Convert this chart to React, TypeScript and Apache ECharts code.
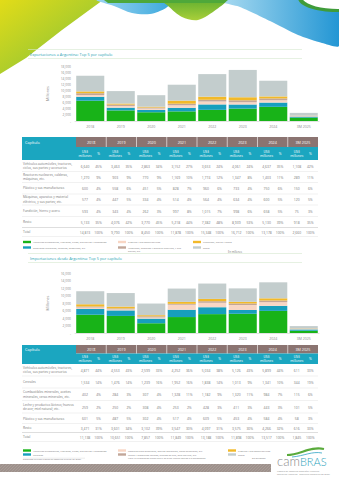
import React, { useEffect, useRef } from "react";
import * as echarts from "echarts";

// ---------- DATA ----------
const years = ["2018", "2019", "2020", "2021", "2022", "2023", "2024", "3M 2025"];
const yTicks1 = { min: 0, max: 18000, interval: 2000 };
const yTicks2 = { min: 0, max: 16000, interval: 2000 };

// Exportaciones a Argentina (US$ millones)
const expNames = [
  "Vehículos automóviles, tractores, ciclos, sus partes y accesorios",
  "Reactores nucleares, calderas, máquinas, etc",
  "Plástico y sus manufacturas",
  "Máquinas, aparatos y material eléctrico, y sus\npartes; etc",
  "Fundición, hierro y acero",
  "Resto",
];
const expRowLabels = [
  "Vehículos automóviles, tractores,\nciclos, sus partes y accesorios",
  "Reactores nucleares, calderas,\nmáquinas, etc.",
  "Plástico y sus manufacturas",
  "Máquinas, aparatos y material\neléctrico, y sus partes; etc.",
  "Fundición, hierro y acero",
  "Resto",
];
const expVehiculos = [6640, 3463, 2863, 3152, 3653, 4061, 4637, 1108];
const expReactores = [1270, 903, 770, 1169, 1774, 1347, 1403, 289];
const expPlastico = [600, 558, 451, 828, 960, 733, 750, 150];
const expMaquinas = [577, 447, 334, 514, 564, 634, 600, 120];
const expFundicion = [593, 343, 262, 997, 1015, 998, 658, 75];
const expResto = [5133, 4076, 3770, 5218, 7382, 8939, 5130, 918];
const expTotal = [14813, 9790, 8450, 11878, 15348, 16712, 13178, 2660];

// Importaciones desde Argentina (US$ millones)
const impNames = [
  "Vehículos automóviles, tractores, ciclos, sus partes y accesorios",
  "Cereales",
  "Combustibles minerales, aceites minerales, ceras minerales, etc.",
  "Leche y productos lácteos; huevos de ave; miel natural; etc.",
  "Plástico y sus manufacturas",
  "Resto",
];
const impRowLabels = [
  "Vehículos automóviles, tractores,\nciclos, sus partes y accesorios",
  "Cereales",
  "Combustibles minerales, aceites\nminerales, ceras minerales, etc.",
  "Leche y productos lácteos; huevos\nde ave; miel natural; etc.",
  "Plástico y sus manufacturas",
  "Resto",
];
const impVehiculos = [4871, 4553, 2599, 4252, 5034, 5126, 5899, 611];
const impCereales = [1534, 1476, 1239, 1952, 1838, 1013, 1341, 344];
const impCombustibles = [402, 284, 307, 1328, 1182, 1320, 984, 115];
const impLeche = [259, 250, 308, 253, 428, 411, 443, 101];
const impPlastico = [601, 487, 302, 517, 609, 453, 584, 58];
const impResto = [3471, 3601, 3102, 3547, 4097, 3575, 4266, 616];
const impTotal = [11138, 10651, 7857, 11849, 13188, 11898, 13517, 1845];

const colors = ["#18b318", "#169fbd", "#f8d6c4", "#c2a699", "#f2b929", "#c3cdcd"];

// ---------- HELPERS ----------
const FONT = "'Open Sans', 'Noto Sans', sans-serif";
const fmt = (v: number) => v.toLocaleString("en-US");

function txt(x: number, y: number, text: string, o: any = {}) {
  return {
    type: "text",
    x,
    y,
    silent: true,
    style: {
      text,
      fontSize: o.fontSize ?? 4,
      fill: o.fill ?? "#7a7a7a",
      align: o.align ?? "left",
      verticalAlign: o.verticalAlign ?? "middle",
      fontFamily: FONT,
      fontWeight: o.fontWeight ?? "normal",
      lineHeight: o.lineHeight ?? 5,
    },
  };
}
function rect(x: number, y: number, w: number, h: number, fill: string) {
  return { type: "rect", silent: true, shape: { x, y, width: w, height: h }, style: { fill } };
}
function hline(x1: number, x2: number, y: number, stroke: string, lw = 0.5) {
  return { type: "line", silent: true, shape: { x1, y1: y, x2, y2: y }, style: { stroke, lineWidth: lw } };
}
function grad(x2: number, y2: number, c1: string, c2: string) {
  return { type: "linear", x: 0, y: 0, x2, y2, colorStops: [{ offset: 0, color: c1 }, { offset: 1, color: c2 }], global: false };
}
function poly(points: number[][], fill: any, smooth = 0) {
  return { type: "polygon", silent: true, shape: { points, smooth }, style: { fill } };
}

const TX0 = 22;
const COL0 = 76;
const COLW = 30.25;
const TX1 = COL0 + COLW * 8;

function buildTable(top: number, headH: number, subH: number, centers: number[], seps: number[], labels: string[], rows: number[][], totals: number[]) {
  const els: any[] = [];
  const subTop = top + headH;
  els.push(rect(TX0, top, COL0 - TX0, headH + subH, "#1ba6c0"));
  els.push(rect(COL0, top, TX1 - COL0, headH, "#8b7471"));
  els.push(rect(COL0, subTop, TX1 - COL0, subH, "#1ba6c0"));
  els.push(txt(TX0 + 3, top + headH / 2, "Capítulo", { fill: "#ffffff", fontSize: 3.8 }));
  years.forEach((yr, i) => {
    const x0 = COL0 + i * COLW;
    if (i > 0) {
      els.push({ type: "line", silent: true, shape: { x1: x0, y1: top, x2: x0, y2: top + headH }, style: { stroke: "#ffffff", lineWidth: 0.6 } });
    }
    els.push(txt(x0 + COLW / 2, top + headH / 2, yr, { fill: "#ffffff", fontSize: 3.7, align: "center" }));
    els.push(txt(x0 + 9, subTop + subH / 2, "US$\nmillones", { fill: "#ffffff", fontSize: 3.3, align: "center", lineHeight: 3.8 }));
    els.push(txt(x0 + 22.5, subTop + subH / 2, "%", { fill: "#ffffff", fontSize: 3.3, align: "center" }));
  });
  const allRows = [...rows, totals];
  const allLabels = [...labels, "Total"];
  allRows.forEach((row, r) => {
    const cy = centers[r];
    els.push(txt(TX0 + 1, cy, allLabels[r], { fontSize: 3.2, lineHeight: 4.2 }));
    row.forEach((v, i) => {
      const x0 = COL0 + i * COLW;
      const pct = Math.round((v / totals[i]) * 100);
      els.push(txt(x0 + 9, cy, fmt(v), { fontSize: 3.4, align: "center" }));
      els.push(txt(x0 + 22.5, cy, pct + "%", { fontSize: 3.4, align: "center" }));
    });
  });
  seps.forEach((y, k) => {
    els.push(hline(TX0, TX1, y, k === seps.length - 2 ? "#bdbdbd" : "#e2e2e2", 0.5));
  });
  return els;
}

function buildLegend(y1: number, y2: number, cols: number[], names: string[], order: number[][]) {
  const els: any[] = [];
  order.forEach(([row, col], k) => {
    const y = row === 0 ? y1 : y2;
    const x = cols[col];
    els.push(rect(x, y - 1.2, 8, 2.4, colors[k]));
    els.push(txt(x + 10, y, names[k], { fontSize: 2.5, lineHeight: 3, verticalAlign: names[k].includes("\n") ? "top" : "middle" }));
    if (names[k].includes("\n")) els[els.length - 1].y = y - 1.5;
  });
  return els;
}

function barSeries(data: number[][], names: string[], xi: number) {
  return data.map((d, k) => ({
    type: "bar",
    name: names[k] + (xi ? " " : ""),
    stack: "s" + xi,
    xAxisIndex: xi,
    yAxisIndex: xi,
    barCategoryGap: "8%",
    itemStyle: { color: colors[k] },
    data: d,
  }));
}

function axes(xi: number, ticks: { min: number; max: number; interval: number }) {
  return {
    x: {
      type: "category",
      gridIndex: xi,
      data: years,
      axisLine: { lineStyle: { color: "#d0d0d0", width: 0.6 } },
      axisTick: { show: false },
      axisLabel: { fontSize: 3.5, color: "#8a8a8a", margin: 3, fontFamily: FONT },
    },
    y: {
      type: "value",
      gridIndex: xi,
      min: ticks.min,
      max: ticks.max,
      interval: ticks.interval,
      name: "Millones",
      nameLocation: "middle",
      nameRotate: 90,
      nameGap: 17,
      nameTextStyle: { fontSize: 3.8, color: "#8a8a8a", fontFamily: FONT },
      splitLine: { show: false },
      axisLine: { show: false },
      axisTick: { show: false },
      axisLabel: {
        fontSize: 3.3,
        color: "#8a8a8a",
        margin: 4,
        fontFamily: FONT,
        formatter: (v: number) => (v === 0 ? "-" : fmt(v)),
      },
    },
  };
}

export default function App() {
  const ref = useRef<HTMLDivElement>(null);
  useEffect(() => {
    if (!ref.current) return;
    const chart = echarts.init(ref.current, undefined, { renderer: "svg" });
    const a1 = axes(0, yTicks1);
    const a2 = axes(1, yTicks2);

    const expData = [expVehiculos, expReactores, expPlastico, expMaquinas, expFundicion, expResto];
    const impData = [impVehiculos, impCereales, impCombustibles, impLeche, impPlastico, impResto];

    const graphics: any[] = [];
    // Header decoration
    graphics.push(poly([[0, 0], [103, 0], [62, 30], [26, 58], [0, 74]], grad(1, 1, "#e2dc18", "#7cbf3d")));
    graphics.push(poly([[212, 0], [339, 0], [339, 46], [322, 43], [298, 35], [270, 21], [240, 7]], grad(1, 0, "#b4e0f3", "#1f94d3"), 0.2));
    graphics.push(poly([[97, 0], [172, 0], [166, 8], [150, 14], [132, 13], [114, 6]], grad(1, 0, "#9ad4f0", "#3aa8dd"), 0.3));
    graphics.push(poly([[162, 0], [226, 0], [217, 9], [198, 20], [182, 17], [168, 6]], grad(0, 1, "#5fae2f", "#a9cf3a"), 0.3));
    graphics.push(poly([[104, 0], [228, 0], [224, 3], [108, 3]], "#4ea83a"));
    graphics.push({ type: "ellipse", silent: true, shape: { cx: 336, cy: -2, rx: 38, ry: 14 }, style: { fill: "#3f9c3a" } });
    graphics.push({ type: "ellipse", silent: true, shape: { cx: 338, cy: -3, rx: 36, ry: 12 }, style: { fill: "#ffffff" } });

    // Titles
    graphics.push(hline(28, 302, 49.5, "#d5e8cf", 0.6));
    graphics.push(txt(30, 54, "Exportaciones a Argentina: Top 5 por capítulo", { fill: "#1d9fb3", fontSize: 3.9 }));
    graphics.push(hline(28, 302, 58.5, "#d5e8cf", 0.6));

    graphics.push(hline(28, 302, 253.5, "#d5e8cf", 0.6));
    graphics.push(txt(30, 258, "Importaciones desde Argentina: Top 5 por capítulo", { fill: "#1d9fb3", fontSize: 3.9 }));
    graphics.push(hline(28, 302, 262.5, "#d5e8cf", 0.6));

    // Tables
    graphics.push(...buildTable(137, 10, 13,
      [166, 177, 188, 199.5, 211, 222, 232],
      [171.5, 182.5, 194, 205, 216.5, 227.5, 236.5],
      expRowLabels, expData, expTotal));
    graphics.push(...buildTable(345, 8.5, 10.5,
      [370, 382, 394.5, 407, 418.5, 428, 437],
      [376, 388, 400.5, 413, 423.5, 432.5, 441.5],
      impRowLabels, impData, impTotal));

    // Legends
    graphics.push(...buildLegend(242, 247.5, [23, 118, 193], expNames, [[0, 0], [1, 0], [0, 1], [1, 1], [0, 2], [1, 2]]));
    graphics.push(txt(228, 251.5, "En millones", { fontSize: 2.6 }));
    graphics.push(...buildLegend(450.5, 454.5, [23, 118, 228], impNames, [[0, 0], [1, 0], [0, 1], [1, 1], [0, 2], [1, 2]]));
    graphics.push(txt(252, 457.5, "En millones", { fontSize: 2.5 }));
    graphics.push(txt(23, 459.8, "Elaborado en base a datos de comercio exterior de Brasil", { fontSize: 2.2 }));
    graphics.push(hline(23, 85, 458.2, "#bdbdbd", 0.3));
    graphics.push(txt(128, 458.6, "Nota: La información puede diferir de otras fuentes debido a la metodología", { fontSize: 2.2 }));

    // Bottom band
    graphics.push(rect(0, 464, 271, 8, "#9e918c"));
    for (let x = -10; x < 271; x += 3) {
      graphics.push({ type: "line", silent: true, shape: { x1: Math.max(x, 0), y1: 472 - (Math.max(x, 0) - x), x2: Math.min(x + 8, 271), y2: 464 + (x + 8 - Math.min(x + 8, 271)) }, style: { stroke: "#b3a8a3", lineWidth: 0.5 } });
    }

    // Logo
    graphics.push({
      type: "bezierCurve", silent: true,
      shape: { x1: 287, y1: 455, cpx1: 300, cpy1: 455, cpx2: 310, cpy2: 446, x2: 324, y2: 449 },
      style: { stroke: "#5aab3c", lineWidth: 2.2, fill: "none" },
    });
    graphics.push({
      type: "bezierCurve", silent: true,
      shape: { x1: 292, y1: 457, cpx1: 304, cpy1: 456, cpx2: 312, cpy2: 451, x2: 322, y2: 453 },
      style: { stroke: "#2ea3c4", lineWidth: 0.8, fill: "none" },
    });
    graphics.push({
      type: "text", silent: true, x: 277, y: 461,
      style: {
        text: "{a|cam}{b|BRAS}",
        verticalAlign: "middle",
        rich: {
          a: { fontSize: 13, fill: "#8c8c8c", fontFamily: "Lato, 'Open Sans', sans-serif", fontWeight: 300 },
          b: { fontSize: 11, fill: "#2aa3bb", fontFamily: "Lato, 'Open Sans', sans-serif", fontWeight: 300 },
        },
      },
    });
    graphics.push(txt(277, 470.5, "Cámara de Comercio Brasileño-Argentina\nRepública Argentina · República Federativa do Brasil", { fontSize: 2.2, lineHeight: 2.7, fill: "#8c8c8c", verticalAlign: "top" }));

    chart.setOption({
      animation: false,
      backgroundColor: "#ffffff",
      grid: [
        { left: 75, right: 20, top: 66, height: 55 },
        { left: 75, right: 20, top: 273, height: 60 },
      ],
      xAxis: [a1.x, a2.x],
      yAxis: [a1.y, a2.y],
      series: [...barSeries(expData, expNames, 0), ...barSeries(impData, impNames, 1)],
      graphic: { elements: graphics },
    });
    return () => chart.dispose();
  }, []);
  return <div ref={ref} style={{ position: "absolute", left: 0, top: 0, width: 339, height: 480 }} />;
}
